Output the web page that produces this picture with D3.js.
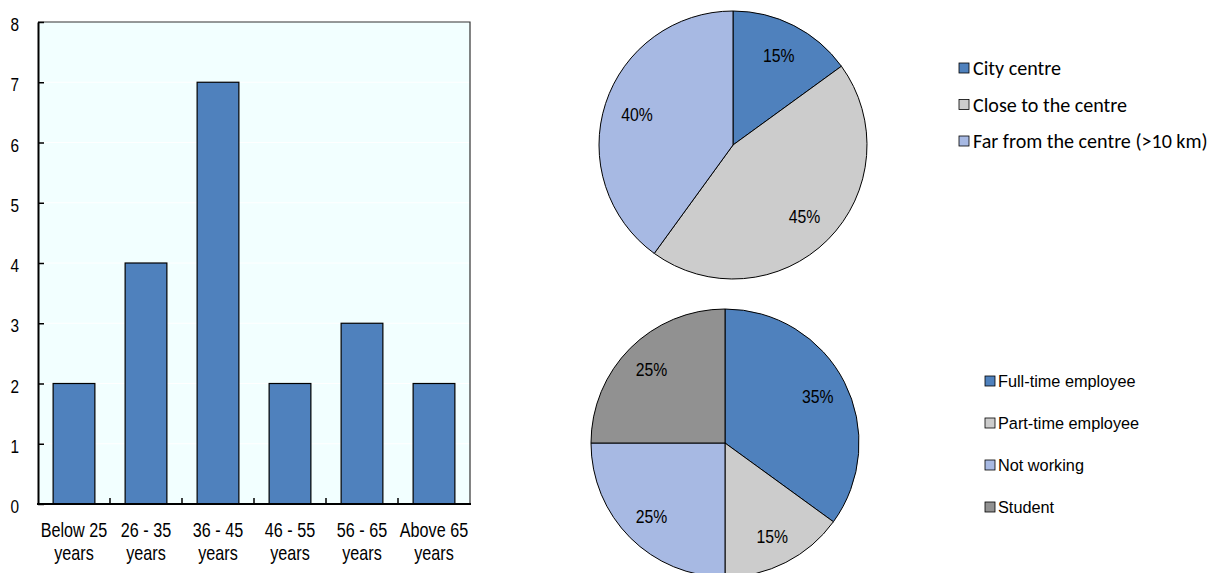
<!DOCTYPE html>
<html>
<head>
<meta charset="utf-8">
<script src="https://cdn.jsdelivr.net/npm/d3@7"></script>
<style>
  html, body { margin: 0; padding: 0; background: #fff; }
  svg { display: block; }
  .sans { font-family: "Liberation Sans", Arial, sans-serif; fill: #000; }
  .calibri { font-family: Carlito, Calibri, Lato, "Open Sans", sans-serif; fill: #000; }
</style>
</head>
<body>
<svg id="chart" width="1211" height="573"></svg>
<script>
// Age distribution (bar chart)
const ageGroups = [["Below 25", "years"], ["26 - 35", "years"], ["36 - 45", "years"], ["46 - 55", "years"], ["56 - 65", "years"], ["Above 65", "years"]];
const ageCounts = [2, 4, 7, 2, 3, 2];
const yTicks = [0, 1, 2, 3, 4, 5, 6, 7, 8];

// Location (first pie)
const locationLabels = ["City centre", "Close to the centre", "Far from the centre (>10 km)"];
const locationShares = [15, 45, 40];

// Employment status (second pie)
const employmentLabels = ["Full-time employee", "Part-time employee", "Not working", "Student"];
const employmentShares = [35, 15, 25, 25];

const NARROW = 0.83; // horizontal squeeze to get a condensed sans look

const svg = d3.select("#chart");

// condensed text helper: positions a text node and squeezes it horizontally
function narrow(sel, fx, fy) {
  return sel.attr("x", 0).attr("y", 0)
    .attr("transform", (d, i) => `translate(${fx(d, i)},${fy(d, i)}) scale(${NARROW},1)`);
}

// ---------- Bar chart ----------
const plot = { left: 38, right: 470, top: 22, bottom: 504 };
const x = d3.scaleBand().domain(d3.range(ageCounts.length)).range([plot.left, plot.right]).paddingInner(0.42).paddingOuter(0.21);
const xOuter = d3.scaleBand().domain(d3.range(ageCounts.length)).range([plot.left, plot.right]);
const y = d3.scaleLinear().domain([0, 8]).range([plot.bottom, plot.top]);

svg.append("rect")
  .attr("x", plot.left).attr("y", plot.top)
  .attr("width", plot.right - plot.left).attr("height", plot.bottom - plot.top)
  .attr("fill", "#F2FFFF");

// faint gridlines
svg.append("g").selectAll("line").data(yTicks.slice(1, -1)).join("line")
  .attr("x1", plot.left).attr("x2", plot.right)
  .attr("y1", d => y(d)).attr("y2", d => y(d))
  .attr("stroke", "#ffffff").attr("stroke-width", 1);

// frame (top & right)
svg.append("path")
  .attr("d", `M${plot.left},${plot.top}H${plot.right}V${plot.bottom}`)
  .attr("fill", "none").attr("stroke", "#333").attr("stroke-width", 1.2);

svg.append("g").selectAll("rect").data(ageCounts).join("rect")
  .attr("x", (d, i) => x(i))
  .attr("y", d => y(d))
  .attr("width", x.bandwidth())
  .attr("height", d => y(0) - y(d))
  .attr("fill", "#4F81BD")
  .attr("stroke", "#000").attr("stroke-width", 1.2);

// y axis
const yAxis = svg.append("g").attr("transform", `translate(${plot.left},0)`)
  .call(d3.axisLeft(y).tickValues(yTicks).tickSizeInner(-6).tickSizeOuter(0));
yAxis.attr("font-size", null).attr("font-family", null);
yAxis.select(".domain").attr("stroke", "#000").attr("stroke-width", 2);
yAxis.selectAll(".tick line").attr("stroke", "#000").attr("stroke-width", 1.5);
yAxis.selectAll(".tick text")
  .attr("class", "sans").style("font-size", "18.5px").attr("text-anchor", "end")
  .attr("dy", "0.36em")
  .attr("x", 0).attr("transform", `translate(-19,2) scale(${NARROW},1)`);

// x axis
const xAxisG = svg.append("g").attr("transform", `translate(0,${plot.bottom})`);
xAxisG.append("line").attr("x1", plot.left - 1).attr("x2", plot.right + 1)
  .attr("stroke", "#000").attr("stroke-width", 2);
xAxisG.selectAll("line.tk").data(d3.range(1, ageCounts.length)).join("line")
  .attr("class", "tk")
  .attr("x1", i => xOuter(i)).attr("x2", i => xOuter(i))
  .attr("y1", 0).attr("y2", -6)
  .attr("stroke", "#000").attr("stroke-width", 1.5);
const xl = xAxisG.selectAll("text").data(ageGroups).join("text")
  .attr("class", "sans").attr("font-size", 19.5).attr("text-anchor", "middle");
narrow(xl, (d, i) => xOuter(i) + xOuter.bandwidth() / 2, () => 0);
xl.append("tspan").attr("x", 0).attr("y", 33).text(d => d[0]);
xl.append("tspan").attr("x", 0).attr("y", 56).text(d => d[1]);

// ---------- Pies ----------
function drawPie(values, colors, cx, cy, r, labelR) {
  const pie = d3.pie().sort(null).value(d => d);
  const arcs = pie(values);
  const arc = d3.arc().innerRadius(0).outerRadius(r);
  const lab = d3.arc().innerRadius(labelR).outerRadius(labelR);
  const g = svg.append("g").attr("transform", `translate(${cx},${cy})`);
  g.selectAll("path").data(arcs).join("path")
    .attr("d", arc).attr("fill", (d, i) => colors[i])
    .attr("stroke", "#000").attr("stroke-width", 1);
  const t = g.selectAll("text").data(arcs).join("text")
    .attr("class", "sans").attr("font-size", 19).attr("text-anchor", "middle")
    .attr("dy", "0.36em")
    .text(d => d.data + "%");
  narrow(t, d => lab.centroid(d)[0], d => lab.centroid(d)[1]);
}

function drawLegend(labels, colors, x0, y0, step, cls, size, textX, sx) {
  const g = svg.append("g");
  labels.forEach((t, i) => {
    g.append("rect").attr("x", x0).attr("y", y0 + i * step - 5)
      .attr("width", 10).attr("height", 10)
      .attr("fill", colors[i]).attr("stroke", "#000").attr("stroke-width", 0.8);
    g.append("text").attr("class", cls).attr("font-size", size)
      .attr("transform", `translate(${textX},${y0 + i * step}) scale(${sx},1)`)
      .attr("dy", "0.36em").text(t);
  });
}

const locColors = ["#4F81BD", "#CCCCCC", "#A7B9E3"];
const empColors = ["#4F81BD", "#CCCCCC", "#A7B9E3", "#919191"];

drawPie(locationShares, locColors, 733, 145, 134, 101);
drawPie(employmentShares, empColors, 725, 443, 134, 104);

drawLegend(locationLabels, locColors, 959, 68, 36.5, "calibri", 19.5, 973, 1.03);
drawLegend(employmentLabels, empColors, 985, 381, 42, "sans", 16.3, 998, 1);
</script>
</body>
</html>
